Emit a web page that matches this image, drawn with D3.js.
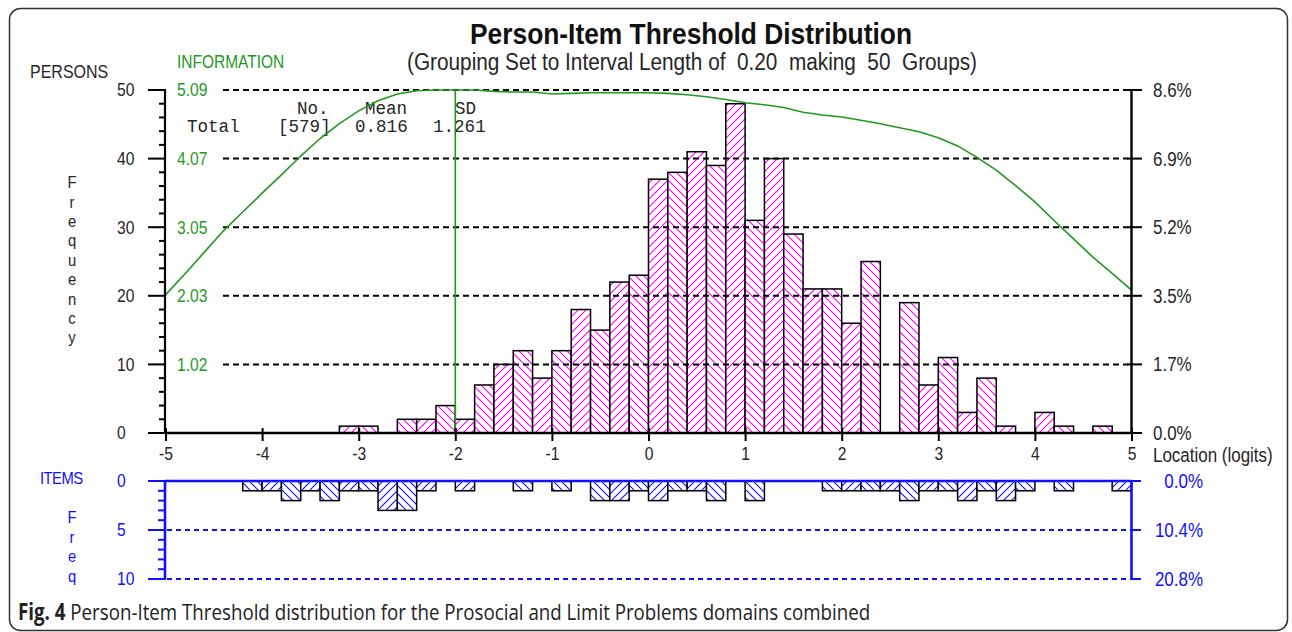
<!DOCTYPE html>
<html><head><meta charset="utf-8">
<script src="https://cdn.jsdelivr.net/npm/d3@7"></script>
<style>html,body{margin:0;padding:0;background:#fff;} svg{display:block;}</style>
</head><body>
<svg id="chart" width="1292" height="632"></svg>
<script>
// ---------------- data ----------------
const binStart = -5;
const binWidth = 0.2;
const personCounts = [0,0,0,0,0,0,0,0,0,1, 1,0,2,2,4,2,7,10,12,8, 12,18,15,22,23,37,38,41,39,48, 31,40,29,21,21,16,25,0,19,7, 11,3,8,1,0,3,1,0,1,0];
const itemCounts   = [0,0,0,0,1,1,2,1,2,1, 1,3,3,1,0,1,0,0,1,0, 1,0,2,2,1,2,1,1,2,0, 2,0,0,0,1,1,1,1,2,1, 1,2,1,2,1,0,1,0,0,1];
const infoLocation = [-5,-4.8,-4.6,-4.4,-4.2,-4,-3.8,-3.6,-3.4,-3.2,-3,-2.8,-2.6,-2.4,-2.2,-2,-1.8,-1.6,-1.4,-1.2,-1,-0.8,-0.6,-0.4,-0.2,0,0.2,0.4,0.6,0.8,1,1.2,1.4,1.6,1.8,2,2.2,2.4,2.6,2.8,3,3.2,3.4,3.6,3.8,4,4.2,4.4,4.6,4.8,5];
const infoValue    = [2.05,2.36,2.68,3.00,3.28,3.56,3.83,4.11,4.37,4.59,4.78,4.93,5.03,5.08,5.09,5.09,5.09,5.07,5.06,5.06,5.03,5.04,5.05,5.05,5.05,5.05,5.04,5.02,4.99,4.95,4.90,4.87,4.83,4.76,4.72,4.69,4.64,4.59,4.53,4.47,4.38,4.26,4.09,3.90,3.67,3.43,3.15,2.88,2.61,2.37,2.12];
const markerLocation = -2.0;
const xTicks = [-5,-4,-3,-2,-1,0,1,2,3,4,5];
const personTicks = [0,10,20,30,40,50];
const personMinorTicks = [2,4,6,8,12,14,16,18,22,24,26,28,32,34,36,38,42,44,46,48];
const infoTickLabels = ["", "1.02","2.03","3.05","4.07","5.09"];
const personPctLabels = ["0.0%","1.7%","3.5%","5.2%","6.9%","8.6%"];
const itemTicks = [0,5,10];
const itemMinorTicks = [1,2,3,4,6,7,8,9];
const itemPctLabels = ["0.0%","10.4%","20.8%"];
const statsHeader = ["No.","Mean","SD"];
const statsRow = ["Total","[579]","0.816","1.261"];
const infoMax = 5.09;
const personMax = 50;
const itemMax = 10;

// ---------------- setup ----------------
const svg = d3.select("#chart");
const SANS = "Arial, 'Liberation Sans', Helvetica, sans-serif";
const MONO = "'Liberation Mono', 'Courier New', monospace";
const GREEN = "#1f9a1f", BLUE = "#1010ff", MAG = "#ff00ff", INK = "#262626";
const SX = 0.87;   // horizontal squeeze of the label type

const x = d3.scaleLinear().domain([-5, 5]).range([165.5, 1131.5]);
const yP = d3.scaleLinear().domain([0, personMax]).range([433, 90]);
const yInfo = d3.scaleLinear().domain([0, infoMax]).range([433, 90]);
const yI = d3.scaleLinear().domain([0, itemMax]).range([481, 579]);

const tr = (px, py, s = SX) => `translate(${px},${py}) scale(${s},1)`;
function fitWidth(sel, w, s = SX) {
  const cur = sel.node().getComputedTextLength();
  const fs = parseFloat(sel.attr("font-size"));
  sel.attr("font-size", fs * (w / s) / cur);
}

// frame
svg.append("rect").attr("x", 9.5).attr("y", 8.5).attr("width", 1278).attr("height", 622)
  .attr("rx", 11).attr("fill", "none").attr("stroke", "#333").attr("stroke-width", 1.5);

// patterns
const defs = svg.append("defs");
function hatch(id, color, dir) {
  const p = defs.append("pattern").attr("id", id).attr("patternUnits", "userSpaceOnUse")
    .attr("width", 8).attr("height", 8);
  p.append("rect").attr("width", 8).attr("height", 8).attr("fill", "#fff");
  const d = dir === "/" ? "M-1,1 L1,-1 M0,8 L8,0 M7,9 L9,7" : "M-1,7 L1,9 M0,0 L8,8 M7,-1 L9,1";
  p.append("path").attr("d", d).attr("stroke", color).attr("stroke-width", 1.1).attr("fill", "none");
}
hatch("pm1", MAG, "/"); hatch("pm2", MAG, "\\");
hatch("pb1", BLUE, "/"); hatch("pb2", BLUE, "\\");

// ---------------- person bars ----------------
const pData = personCounts.map((v, i) => ({i, lo: binStart + i * binWidth, v})).filter(d => d.v > 0);
svg.append("g").selectAll("rect").data(pData).join("rect")
  .attr("x", d => x(d.lo)).attr("width", d => x(d.lo + binWidth) - x(d.lo))
  .attr("y", d => yP(d.v)).attr("height", d => yP(0) - yP(d.v))
  .attr("fill", d => d.i % 2 ? "url(#pm1)" : "url(#pm2)")
  .attr("stroke", "#000").attr("stroke-width", 1.5);

// grid lines (dashed)
svg.append("g").selectAll("line").data(personTicks.filter(t => t > 0)).join("line")
  .attr("x1", 223).attr("x2", 1128).attr("y1", d => yP(d)).attr("y2", d => yP(d))
  .attr("stroke", "#000").attr("stroke-width", 2).attr("stroke-dasharray", "6,4");

// stats table (monospace)
const mono = svg.append("g").attr("font-family", MONO).attr("font-size", 18.5).attr("fill", INK);
const hdrX = [297, 365, 455];
mono.selectAll("text.h").data(statsHeader).join("text").attr("class", "h")
  .attr("transform", (d, i) => tr(hdrX[i], 114, 0.95)).text(d => d);
const rowX = [187, 278, 355, 433];
mono.selectAll("text.r").data(statsRow).join("text").attr("class", "r")
  .attr("transform", (d, i) => tr(rowX[i], 132, 0.95)).text(d => d);

// information curve
svg.append("path").datum(infoLocation.map((l, i) => [l, infoValue[i]]))
  .attr("d", d3.line().x(d => x(d[0])).y(d => yInfo(d[1])))
  .attr("fill", "none").attr("stroke", GREEN).attr("stroke-width", 1.6);
svg.append("line").attr("x1", x(markerLocation)).attr("x2", x(markerLocation))
  .attr("y1", yP(personMax)).attr("y2", yP(0)).attr("stroke", GREEN).attr("stroke-width", 1.6);

// ---------------- axes (top panel) ----------------
const ax = svg.append("g").attr("stroke", "#000");
ax.append("line").attr("x1", 165).attr("x2", 165).attr("y1", yP(personMax)).attr("y2", yP(0)).attr("stroke-width", 2.2);
ax.selectAll("line.maj").data(personTicks).join("line").attr("class", "maj")
  .attr("x1", 148).attr("x2", 166).attr("y1", d => yP(d)).attr("y2", d => yP(d)).attr("stroke-width", 2);
ax.selectAll("line.min").data(personMinorTicks).join("line").attr("class", "min")
  .attr("x1", 159).attr("x2", 166).attr("y1", d => yP(d)).attr("y2", d => yP(d)).attr("stroke-width", 2);
ax.append("line").attr("x1", 1131.5).attr("x2", 1131.5).attr("y1", yP(personMax) - 1).attr("y2", yP(0)).attr("stroke-width", 2.4);
ax.selectAll("line.rt").data(personTicks).join("line").attr("class", "rt")
  .attr("x1", 1127).attr("x2", 1142).attr("y1", d => yP(d)).attr("y2", d => yP(d)).attr("stroke-width", 2);
ax.append("line").attr("x1", 165).attr("x2", 1131.5).attr("y1", yP(0)).attr("y2", yP(0)).attr("stroke-width", 2.4);
const xAxis = d3.axisBottom(x).tickValues(xTicks).tickSize(8).tickSizeOuter(0).tickFormat(d => d);
const xg = svg.append("g").attr("transform", `translate(0,${yP(0)})`).call(xAxis);
xg.select(".domain").remove();
xg.selectAll(".tick line").attr("y1", -5).attr("y2", 8).attr("stroke", "#000").attr("stroke-width", 2);
xg.selectAll(".tick text").attr("font-family", SANS).attr("font-size", 18).attr("fill", INK)
  .attr("y", null).attr("dy", "0.36em").attr("transform", `translate(0,21) scale(${SX},1)`);

// labels
const lbl = svg.append("g").attr("font-family", SANS).attr("font-size", 18).attr("fill", INK);
lbl.selectAll("text.pl").data(personTicks).join("text").attr("class", "pl")
  .attr("transform", d => tr(117, yP(d))).attr("dy", "0.36em").text(d => d);
svg.append("g").attr("font-family", SANS).attr("font-size", 18).attr("fill", GREEN)
  .selectAll("text").data(personTicks).join("text")
  .attr("transform", d => tr(177, yP(d))).attr("dy", "0.36em").text((d, i) => infoTickLabels[i]);
lbl.selectAll("text.pr").data(personTicks).join("text").attr("class", "pr")
  .attr("transform", d => tr(1153, yP(d))).attr("dy", "0.36em").attr("font-size", 19.5).text((d, i) => personPctLabels[i]);
lbl.append("text").attr("transform", tr(1153, 455)).attr("dy", "0.36em").attr("font-size", 19.5).text("Location (logits)");
lbl.append("text").attr("transform", tr(30, 71)).attr("dy", "0.36em").attr("font-size", 18.4).text("PERSONS");
svg.append("text").attr("transform", tr(177, 62)).attr("dy", "0.36em").attr("font-family", SANS)
  .attr("font-size", 17.8).attr("fill", GREEN).text("INFORMATION");
lbl.selectAll("text.fq").data("Frequency".split("")).join("text").attr("class", "fq")
  .attr("transform", (d, i) => tr(72, 182 + i * 19.4)).attr("dy", "0.36em").attr("text-anchor", "middle").attr("font-size", 17).text(d => d);

// title
const title = svg.append("text").attr("transform", tr(691, 44)).attr("text-anchor", "middle")
  .attr("font-family", SANS).attr("font-weight", "bold").attr("font-size", 25).attr("fill", "#111")
  .text("Person-Item Threshold Distribution");
fitWidth(title, 442);
const sub = svg.append("text").attr("transform", tr(692, 70)).attr("text-anchor", "middle")
  .attr("font-family", SANS).attr("font-size", 19).attr("fill", INK).style("white-space", "pre")
  .text("(Grouping Set to Interval Length of  0.20  making  50  Groups)");
fitWidth(sub, 570);

// ---------------- items panel ----------------
const iData = itemCounts.map((v, i) => ({i, lo: binStart + i * binWidth, v})).filter(d => d.v > 0);
svg.append("g").selectAll("rect").data(iData).join("rect")
  .attr("x", d => x(d.lo)).attr("width", d => x(d.lo + binWidth) - x(d.lo))
  .attr("y", yI(0)).attr("height", d => yI(d.v) - yI(0))
  .attr("fill", d => d.i % 2 ? "url(#pb1)" : "url(#pb2)")
  .attr("stroke", "#000").attr("stroke-width", 1.5);

const bl = svg.append("g").attr("stroke", BLUE);
bl.selectAll("line.dash").data(itemTicks.filter(t => t > 0)).join("line").attr("class", "dash")
  .attr("x1", 167).attr("x2", 1131).attr("y1", d => yI(d)).attr("y2", d => yI(d))
  .attr("stroke-width", 2).attr("stroke-dasharray", "5,4");
bl.append("line").attr("x1", 165).attr("x2", 1131.5).attr("y1", yI(0)).attr("y2", yI(0)).attr("stroke-width", 2.6);
bl.append("line").attr("x1", 165).attr("x2", 165).attr("y1", yI(0)).attr("y2", yI(itemMax)).attr("stroke-width", 2.6);
bl.append("line").attr("x1", 1131.5).attr("x2", 1131.5).attr("y1", yI(0)).attr("y2", yI(itemMax)).attr("stroke-width", 2.6);
bl.selectAll("line.maj").data(itemTicks).join("line").attr("class", "maj")
  .attr("x1", 148).attr("x2", 166).attr("y1", d => yI(d)).attr("y2", d => yI(d)).attr("stroke-width", 2);
bl.selectAll("line.min").data(itemMinorTicks).join("line").attr("class", "min")
  .attr("x1", 158).attr("x2", 166).attr("y1", d => yI(d)).attr("y2", d => yI(d)).attr("stroke-width", 2);
bl.selectAll("line.rt").data(itemTicks).join("line").attr("class", "rt")
  .attr("x1", 1131).attr("x2", 1141).attr("y1", d => yI(d)).attr("y2", d => yI(d)).attr("stroke-width", 2);

const bt = svg.append("g").attr("font-family", SANS).attr("font-size", 18).attr("fill", BLUE);
bt.selectAll("text.il").data(itemTicks).join("text").attr("class", "il")
  .attr("transform", d => tr(117, yI(d))).attr("dy", "0.36em").text(d => d);
bt.selectAll("text.ir").data(itemTicks).join("text").attr("class", "ir")
  .attr("transform", d => tr(1203, yI(d))).attr("dy", "0.36em").attr("text-anchor", "end").attr("font-size", 19.5)
  .text((d, i) => itemPctLabels[i]);
bt.append("text").attr("transform", tr(40, 478)).attr("dy", "0.36em").attr("font-size", 17).attr("letter-spacing", -0.6).text("ITEMS");
bt.selectAll("text.fq").data("Freq".split("")).join("text").attr("class", "fq")
  .attr("transform", (d, i) => tr(72, 517 + i * 19.5)).attr("dy", "0.36em").attr("text-anchor", "middle").attr("font-size", 17).text(d => d);

// caption
const cap = svg.append("text").attr("transform", tr(18, 620, 0.84)).attr("font-family", "'Open Sans', 'Noto Sans', sans-serif")
  .attr("font-size", 19).attr("fill", "#222").style("white-space", "pre");
cap.append("tspan").attr("font-weight", "bold").text("Fig. 4");
cap.append("tspan").text(" Person-Item Threshold distribution for the Prosocial and Limit Problems domains combined");
fitWidth(cap, 852, 0.84);
</script>
</body></html>
